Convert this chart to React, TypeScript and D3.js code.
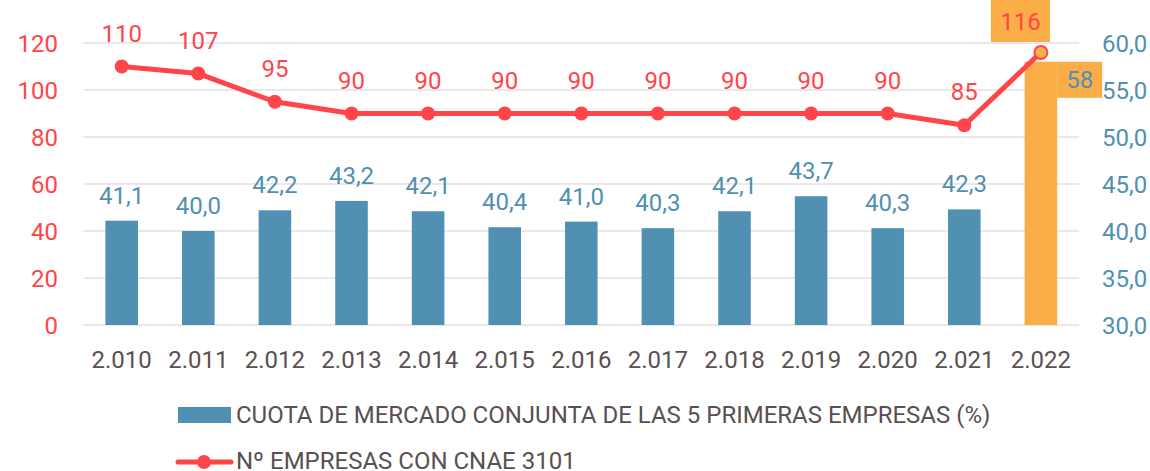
import React from "react";
import * as d3 from "d3";

const years = ["2.010","2.011","2.012","2.013","2.014","2.015","2.016","2.017","2.018","2.019","2.020","2.021","2.022"];
const cuota = [41.1, 40.0, 42.2, 43.2, 42.1, 40.4, 41.0, 40.3, 42.1, 43.7, 40.3, 42.3, 58];
const empresas = [110, 107, 95, 90, 90, 90, 90, 90, 90, 90, 90, 85, 116];
const leftTicks = [0, 20, 40, 60, 80, 100, 120];
const rightTicks = [30, 35, 40, 45, 50, 55, 60];
const legendBar = "CUOTA DE MERCADO CONJUNTA DE LAS 5 PRIMERAS EMPRESAS (%)";
const legendLine = "Nº EMPRESAS CON CNAE 3101";

const W = 1150, H = 471;
const BLUE = "#5090b2";
const RED = "#ff4548";
const ORANGE = "#fbae48";
const GREY = "#595050";
const GRID = "#e3e0e0";
const FONT = "Roboto, 'Open Sans', sans-serif";
const FS = 24;

export default function App() {
  const x = d3.scaleBand<string>().domain(years).range([83.4, 1079.2]).paddingInner(0).paddingOuter(0);
  const yL = d3.scaleLinear().domain([0, 120]).range([325, 43]);
  const yR = d3.scaleLinear().domain([30, 60]).range([325, 43]);
  const bw = x.bandwidth() * 0.425;
  const cx = (i: number) => (x(years[i]) as number) + x.bandwidth() / 2;
  const line = d3.line<number>().x((_, i) => cx(i)).y((d) => yL(d));
  const last = years.length - 1;

  return (
    <svg width={W} height={H} style={{ position: "absolute", left: 0, top: 0, background: "#fff" }} fontFamily={FONT}>
      {leftTicks.map((t) => (
        <line key={"g" + t} x1={83.4} x2={1079.2} y1={yL(t)} y2={yL(t)} stroke={GRID} strokeWidth={1.5} />
      ))}
      {leftTicks.map((t) => (
        <text key={"l" + t} x={58} y={yL(t)} dy="0.36em" textAnchor="end" fontSize={FS} fill={RED}>{t}</text>
      ))}
      {rightTicks.map((t) => (
        <text key={"r" + t} x={1102} y={yR(t)} dy="0.36em" textAnchor="start" fontSize={FS} fill={BLUE}>{d3.format(".1f")(t).replace(".", ",")}</text>
      ))}
      {years.map((y, i) => (
        <text key={"x" + y} x={cx(i)} y={368} textAnchor="middle" fontSize={FS} fill={GREY}>{y}</text>
      ))}
      {cuota.map((v, i) => (
        <rect key={"b" + i} x={cx(i) - bw / 2} y={yR(v)} width={bw} height={yR(30) - yR(v)} fill={i === last ? ORANGE : BLUE} />
      ))}
      {cuota.map((v, i) => i === last ? (
        <g key={"bl" + i}>
          <rect x={cx(i) + bw / 2} y={yR(v)} width={45} height={36} fill={ORANGE} />
          <text x={cx(i) + bw / 2 + 22.5} y={yR(v) + 18} dy="0.36em" textAnchor="middle" fontSize={FS} fill={BLUE}>{d3.format(".0f")(v)}</text>
        </g>
      ) : (
        <text key={"bl" + i} x={cx(i)} y={yR(v) - 17} textAnchor="middle" fontSize={FS} fill={BLUE}>{d3.format(".1f")(v).replace(".", ",")}</text>
      ))}
      <path d={line(empresas) || ""} fill="none" stroke={RED} strokeWidth={5} strokeLinejoin="round" />
      {empresas.map((v, i) => (
        <circle key={"c" + i} cx={cx(i)} cy={yL(v)} r={i === last ? 6.5 : 7} fill={i === last ? ORANGE : RED} stroke={RED} strokeWidth={i === last ? 2 : 0} />
      ))}
      {empresas.map((v, i) => i === last ? (
        <g key={"ll" + i}>
          <rect x={cx(i) - 50} y={0} width={59} height={42} fill={ORANGE} />
          <text x={cx(i) - 20.5} y={30} textAnchor="middle" fontSize={FS} fill={RED}>{v}</text>
        </g>
      ) : (
        <text key={"ll" + i} x={cx(i)} y={yL(v) - 25} textAnchor="middle" fontSize={FS} fill={RED}>{v}</text>
      ))}
      <rect x={178} y={407} width={53} height={16} fill={BLUE} />
      <text x={236} y={423} fontSize={FS} fill={GREY}>{legendBar}</text>
      <line x1={178} x2={231} y1={462} y2={462} stroke={RED} strokeWidth={5} strokeLinecap="round" />
      <circle cx={204} cy={462} r={7} fill={RED} />
      <text x={236} y={469} fontSize={FS} fill={GREY}>{legendLine}</text>
    </svg>
  );
}
